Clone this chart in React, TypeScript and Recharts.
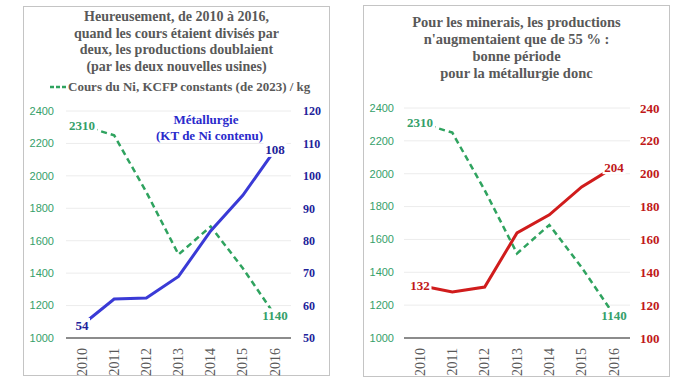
import React from "react";
import { CartesianGrid, LabelList, Line, LineChart, XAxis, YAxis } from "recharts";

const years = ["2010", "2011", "2012", "2013", "2014", "2015", "2016"];
const coursNi = [2310, 2250, 1900, 1515, 1688, 1430, 1140];
const metallurgie = [54, 62, 62.3, 69, 83, 94, 108];
const minerais = [132, 128, 131, 164, 175, 192, 204];

const coursTicks = [1000, 1200, 1400, 1600, 1800, 2000, 2200, 2400];
const metalTicks = [50, 60, 70, 80, 90, 100, 110, 120];
const mineraisTicks = [100, 120, 140, 160, 180, 200, 220, 240];

const leftTitle = [
  "Heureusement, de 2010 à 2016,",
  "quand les cours étaient divisés par",
  "deux, les productions doublaient",
  "(par les deux nouvelles usines)",
];
const rightTitle = [
  "Pour les minerais, les productions",
  "n'augmentaient que de 55 % :",
  "bonne période",
  "pour la métallurgie donc",
];

const rows = years.map((year, i) => ({
  year,
  cours: coursNi[i],
  metal: metallurgie[i],
  minerais: minerais[i],
}));

const GREEN = "#2fa35f";
const GREEN_TXT = "#35a06a";
const BLUE = "#3a3ad6";
const BLUE_TXT = "#22229a";
const RED = "#d01c1c";
const RED_TXT = "#c01818";
const GRAY = "#595959";
const SERIF = "Liberation Serif, DejaVu Serif, serif";
const SANS = "Liberation Sans, Arial, sans-serif";

const YearTick = ({ x, y, payload }: any) => (
  <text
    x={x}
    y={y}
    transform={`rotate(-90, ${x}, ${y})`}
    textAnchor="end"
    dominantBaseline="central"
    fill={GRAY}
    fontFamily={SERIF}
    fontSize={14}
  >
    {payload.value}
  </text>
);

// label at first and last point only, on a white box hiding the line end
const endLabel = (color: string) => (props: any) => {
  const { x, y, value, index } = props;
  if (index !== 0 && index !== years.length - 1) return null;
  const w = String(value).length * 7 + 2;
  return (
    <g>
      <rect x={x - w / 2} y={y - 7} width={w} height={14} fill="#fff" />
      <text
        x={x}
        y={y}
        textAnchor="middle"
        dominantBaseline="central"
        fill={color}
        fontFamily={SERIF}
        fontWeight="bold"
        fontSize={13}
      >
        {value}
      </text>
    </g>
  );
};

const panel = (left: number, top: number, height: number): React.CSSProperties => ({
  position: "absolute",
  left,
  top,
  width: 307,
  height,
  border: "1px solid #c4c4c4",
  boxSizing: "border-box",
  background: "#fff",
});

const titleStyle = (top: number, lh: number, size: number): React.CSSProperties => ({
  position: "absolute",
  left: 0,
  right: 0,
  top,
  textAlign: "center",
  fontFamily: SERIF,
  fontWeight: "bold",
  fontSize: size,
  lineHeight: `${lh}px`,
  color: GRAY,
});

export default function App() {
  return (
    <div style={{ position: "absolute", left: 0, top: 0, width: 684, height: 385, background: "#fff" }}>
      {/* left panel */}
      <div style={panel(23, 6, 370)}>
        <div style={{ position: "absolute", left: -1, top: -1 }}>
          <LineChart width={307} height={370} data={rows} margin={{ top: 105, right: 0, bottom: 0, left: 0 }}>
            <CartesianGrid yAxisId="cours" vertical={false} stroke="#ececec" />
            <XAxis
              dataKey="year"
              padding={{ left: 16, right: 16 }}
              height={38}
              tickLine={false}
              tickSize={0}
              tickMargin={10}
              axisLine={{ stroke: "#8c8c8c", strokeWidth: 2 }}
              tick={<YearTick />}
              interval={0}
            />
            <YAxis
              yAxisId="cours"
              orientation="left"
              width={43}
              domain={[1000, 2400]}
              ticks={coursTicks}
              axisLine={false}
              tickLine={false}
              tickSize={0}
              tickMargin={12}
              tick={{ fill: GREEN_TXT, fontSize: 11, fontFamily: SANS }}
            />
            <YAxis
              yAxisId="metal"
              orientation="right"
              width={39}
              domain={[50, 120]}
              ticks={metalTicks}
              axisLine={false}
              tickLine={false}
              tickSize={0}
              tickMargin={12}
              tick={{ fill: BLUE_TXT, fontSize: 12, fontWeight: "bold", fontFamily: SERIF, textAnchor: "start" }}
            />
            <Line
              yAxisId="cours"
              dataKey="cours"
              stroke={GREEN}
              strokeWidth={2.5}
              strokeDasharray="6 4"
              dot={false}
              isAnimationActive={false}
            >
              <LabelList dataKey="cours" content={endLabel(GREEN_TXT)} />
            </Line>
            <Line
              yAxisId="metal"
              dataKey="metal"
              stroke={BLUE}
              strokeWidth={3}
              dot={false}
              isAnimationActive={false}
            >
              <LabelList dataKey="metal" content={endLabel(BLUE_TXT)} />
            </Line>
          </LineChart>
        </div>
        <div style={titleStyle(2, 16.5, 14)}>
          {leftTitle.map((t) => (
            <div key={t}>{t}</div>
          ))}
        </div>
        <div
          style={{
            position: "absolute",
            left: 26,
            top: 72,
            whiteSpace: "nowrap",
            fontFamily: SERIF,
            fontWeight: "bold",
            fontSize: 13,
            lineHeight: "16px",
            color: GRAY,
            display: "flex",
            alignItems: "center",
          }}
        >
          <svg width={17} height={6} style={{ marginRight: 1 }}>
            <line x1={0} y1={3} x2={16} y2={3} stroke={GREEN} strokeWidth={2.5} strokeDasharray="4 2" />
          </svg>
          Cours du Ni, KCFP constants (de 2023) / kg
        </div>
        <div
          style={{
            position: "absolute",
            left: 132,
            width: 100,
            top: 105,
            textAlign: "center",
            whiteSpace: "nowrap",
            fontFamily: SERIF,
            fontWeight: "bold",
            fontSize: 13,
            lineHeight: "15.7px",
            color: "#2a2acc",
          }}
        >
          <div>Métallurgie</div>
          <div>(KT de Ni contenu)</div>
        </div>
      </div>

      {/* right panel */}
      <div style={panel(363, 5, 372)}>
        <div style={{ position: "absolute", left: -1, top: -1 }}>
          <LineChart width={307} height={372} data={rows} margin={{ top: 103, right: 0, bottom: 0, left: 0 }}>
            <CartesianGrid yAxisId="cours" vertical={false} stroke="#ececec" />
            <XAxis
              dataKey="year"
              padding={{ left: 16, right: 16 }}
              height={39}
              tickLine={false}
              tickSize={0}
              tickMargin={10}
              axisLine={{ stroke: "#8c8c8c", strokeWidth: 2 }}
              tick={<YearTick />}
              interval={0}
            />
            <YAxis
              yAxisId="cours"
              orientation="left"
              width={41}
              domain={[1000, 2400]}
              ticks={coursTicks}
              axisLine={false}
              tickLine={false}
              tickSize={0}
              tickMargin={10}
              tick={{ fill: GREEN_TXT, fontSize: 11, fontFamily: SANS }}
            />
            <YAxis
              yAxisId="minerais"
              orientation="right"
              width={40}
              domain={[100, 240]}
              ticks={mineraisTicks}
              axisLine={false}
              tickLine={false}
              tickSize={0}
              tickMargin={10}
              tick={{ fill: RED_TXT, fontSize: 13, fontWeight: "bold", fontFamily: SERIF, textAnchor: "start" }}
            />
            <Line
              yAxisId="cours"
              dataKey="cours"
              stroke={GREEN}
              strokeWidth={2.5}
              strokeDasharray="6 4"
              dot={false}
              isAnimationActive={false}
            >
              <LabelList dataKey="cours" content={endLabel(GREEN_TXT)} />
            </Line>
            <Line
              yAxisId="minerais"
              dataKey="minerais"
              stroke={RED}
              strokeWidth={3}
              dot={false}
              isAnimationActive={false}
            >
              <LabelList dataKey="minerais" content={endLabel(RED_TXT)} />
            </Line>
          </LineChart>
        </div>
        <div style={titleStyle(8, 17, 14.5)}>
          {rightTitle.map((t) => (
            <div key={t}>{t}</div>
          ))}
        </div>
      </div>
    </div>
  );
}
